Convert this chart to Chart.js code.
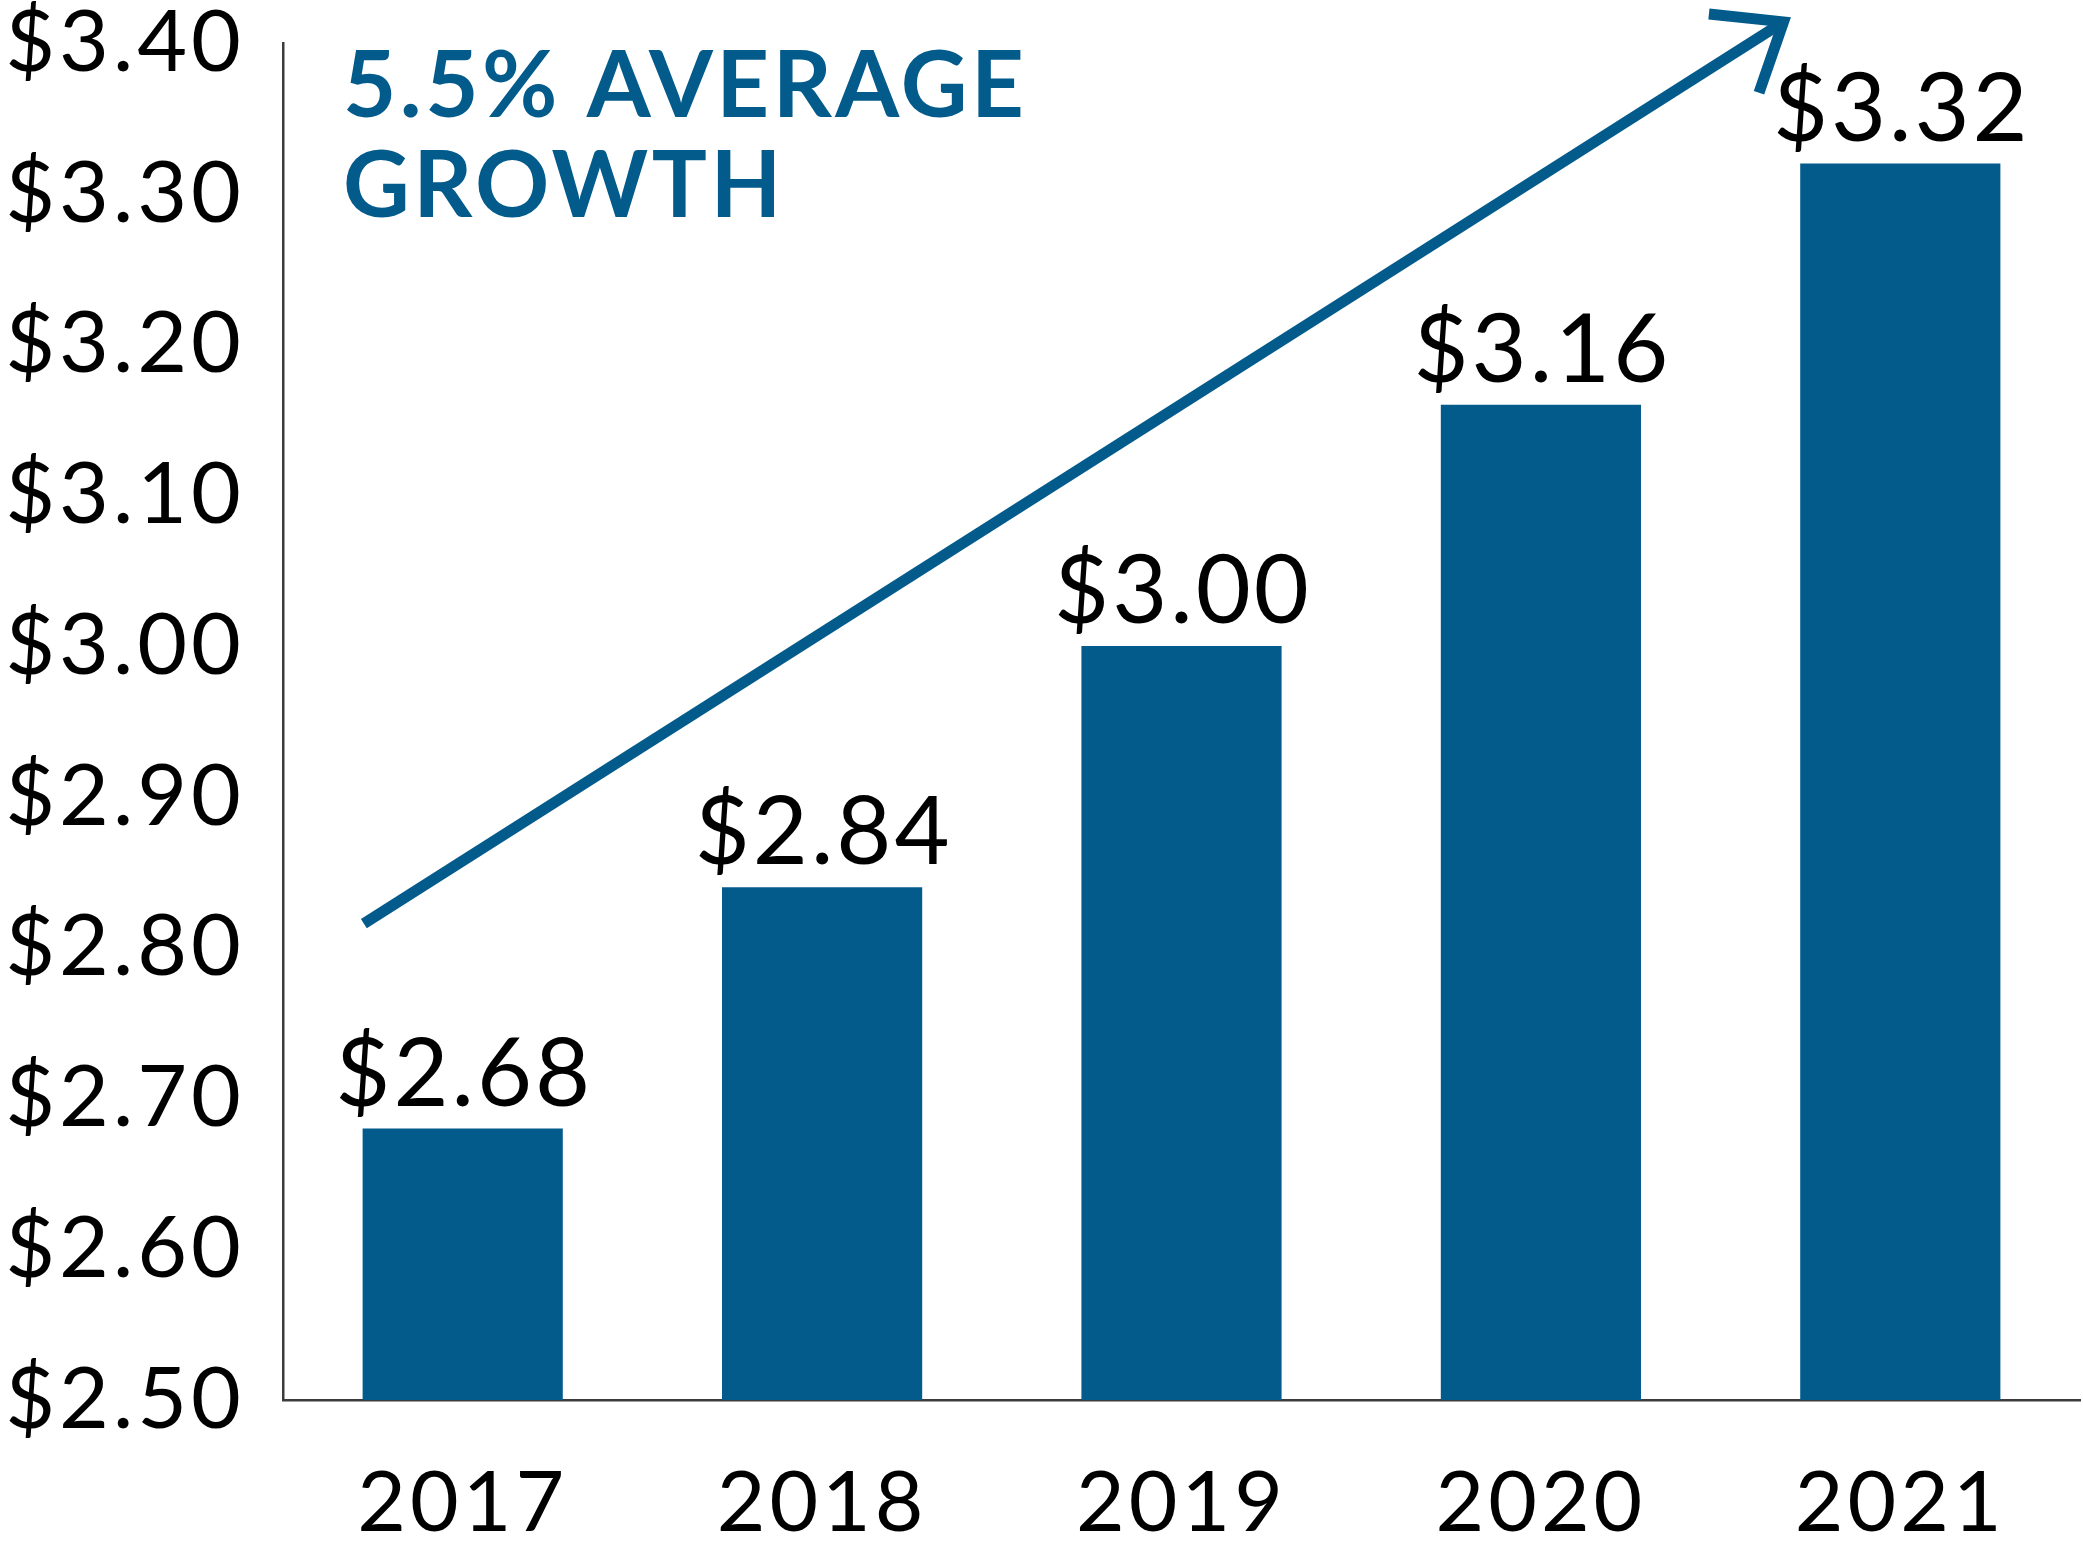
<!DOCTYPE html>
<html>
<head>
<meta charset="utf-8">
<script src="https://cdn.jsdelivr.net/npm/chart.js@4.4.1/dist/chart.umd.min.js"></script>
<style>
  html, body { margin: 0; padding: 0; background: #ffffff; }
  #wrap { width: 2083px; height: 1566px; position: relative; }
</style>
</head>
<body>
<div id="wrap"><canvas id="c" width="2083" height="1566"></canvas></div>
<script>
// ---- data ----
const years = ['2017', '2018', '2019', '2020', '2021'];
const dividendValues = [2.68, 2.84, 3.00, 3.16, 3.32];
const valueLabels = ['$2.68', '$2.84', '$3.00', '$3.16', '$3.32'];
const yTickLabels = ['$2.50', '$2.60', '$2.70', '$2.80', '$2.90', '$3.00', '$3.10', '$3.20', '$3.30', '$3.40'];
const titleLines = ['5.5% AVERAGE', 'GROWTH'];
// trend arrow endpoints in data space (category index, value)
const arrowFrom = [-0.275, 2.816];
const arrowTo = [3.675, 3.414];

const BLUE = '#035b8c';
const FONT = 'Lato, "Open Sans", sans-serif';

const spacingPlugin = {
  id: 'spacing',
  beforeDraw(chart) {
    chart.ctx.letterSpacing = '4px';
  }
};

const overlayPlugin = {
  id: 'overlay',
  afterDatasetsDraw(chart) {
    const ctx = chart.ctx;
    const xs = chart.scales.x, ys = chart.scales.y;
    // value labels above bars
    const meta = chart.getDatasetMeta(0);
    ctx.save();
    ctx.letterSpacing = '3px';
    ctx.fillStyle = '#000000';
    ctx.font = '95px ' + FONT;
    ctx.textAlign = 'center';
    ctx.textBaseline = 'alphabetic';
    meta.data.forEach((bar, i) => {
      ctx.fillText(valueLabels[i], bar.x + 1.5, bar.y - 23);
    });
    ctx.restore();

    // title text
    ctx.save();
    ctx.letterSpacing = '3.5px';
    ctx.fillStyle = BLUE;
    ctx.font = 'bold 92px ' + FONT;
    ctx.textAlign = 'left';
    ctx.textBaseline = 'alphabetic';
    titleLines.forEach((t, i) => ctx.fillText(t, 343, 117 + i * 100));
    ctx.restore();

    // arrow
    const x1 = xs.getPixelForValue(arrowFrom[0]), y1 = ys.getPixelForValue(arrowFrom[1]);
    const x2 = xs.getPixelForValue(arrowTo[0]), y2 = ys.getPixelForValue(arrowTo[1]);
    const ang = Math.atan2(y1 - y2, x1 - x2);
    const spread = 38.5 * Math.PI / 180, len = 75;
    ctx.save();
    ctx.strokeStyle = BLUE;
    ctx.lineWidth = 11;
    ctx.lineCap = 'butt';
    ctx.lineJoin = 'miter';
    ctx.miterLimit = 10;
    ctx.beginPath();
    ctx.moveTo(x1, y1);
    ctx.lineTo(x2, y2);
    ctx.stroke();
    ctx.beginPath();
    ctx.moveTo(x2 + len * Math.cos(ang + spread), y2 + len * Math.sin(ang + spread));
    ctx.lineTo(x2, y2);
    ctx.lineTo(x2 + len * Math.cos(ang - spread), y2 + len * Math.sin(ang - spread));
    ctx.stroke();
    ctx.restore();
  }
};

new Chart(document.getElementById('c'), {
  type: 'bar',
  data: {
    labels: years,
    datasets: [{
      data: dividendValues,
      backgroundColor: BLUE,
      borderWidth: 0,
      categoryPercentage: 1.0,
      barPercentage: 0.557
    }]
  },
  options: {
    responsive: false,
    animation: false,
    events: [],
    layout: { padding: { top: 43, right: 3, bottom: 0, left: 0 } },
    plugins: { legend: { display: false }, tooltip: { enabled: false }, title: { display: false } },
    scales: {
      x: {
        grid: { display: false, drawTicks: false },
        border: { display: true, color: '#3c3c3c', width: 2.5 },
        ticks: { color: '#000000', font: { family: FONT, size: 84, lineHeight: 1 }, padding: 62, maxRotation: 0 },
        afterFit(s) { s.height = 166; }
      },
      y: {
        min: 2.5,
        max: 3.4,
        grid: { display: false, drawTicks: false },
        border: { display: true, color: '#3c3c3c', width: 2.5 },
        ticks: {
          stepSize: 0.1,
          color: '#000000',
          font: { family: FONT, size: 86, lineHeight: 1 },
          padding: 38,
          callback: (v, i) => yTickLabels[i]
        },
        afterFit(s) { s.width = 283; s.paddingTop = 0; s.paddingBottom = 0; }
      }
    }
  },
  plugins: [spacingPlugin, overlayPlugin]
});
</script>
</body>
</html>
